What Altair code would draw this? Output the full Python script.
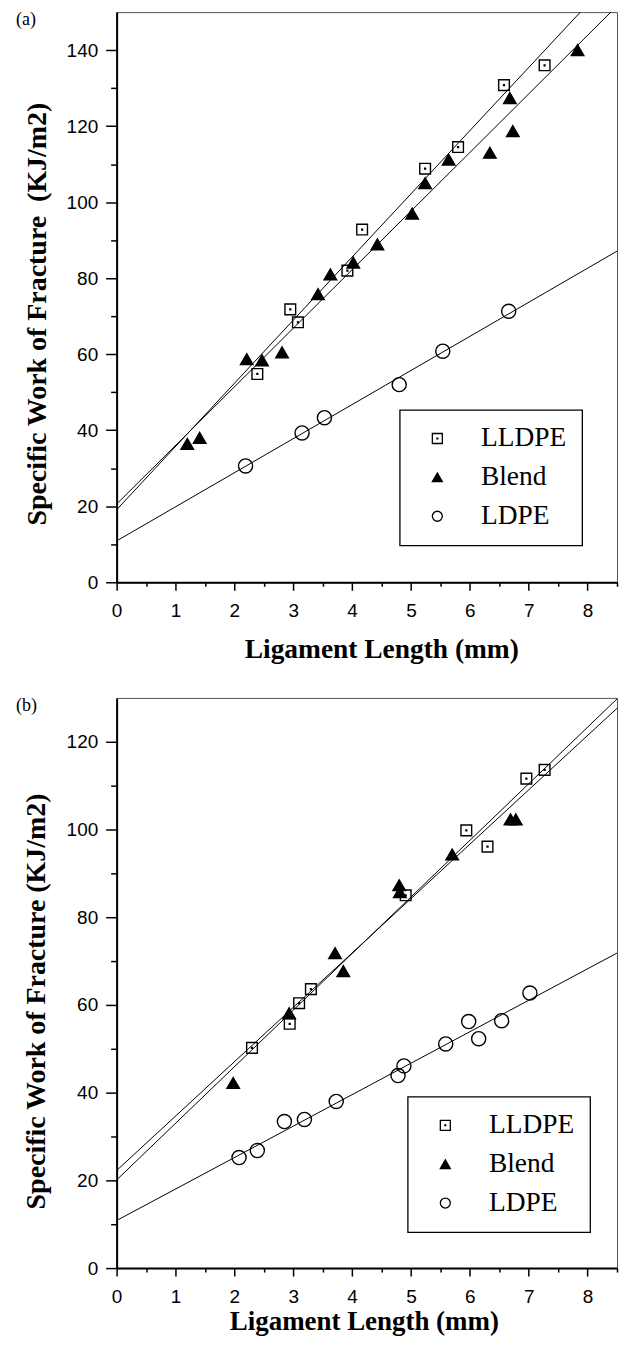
import altair as alt
import pandas as pd

SERIES = ["LLDPE", "Blend", "LDPE"]

# ---- panel (a): ligament length (mm) vs specific work of fracture (kJ/m2)
a_lldpe_len = [2.39, 2.95, 3.08, 3.92, 4.17, 5.24, 5.80, 6.58, 7.27]
a_lldpe_wf = [54.8, 71.8, 68.4, 82.0, 92.8, 108.8, 114.5, 130.8, 136.0]
a_blend_len = [1.20, 1.41, 2.21, 2.47, 2.81, 3.42, 3.63, 4.02, 4.43, 5.02,
               5.24, 5.64, 6.34, 6.73, 6.68, 7.83]
a_blend_wf = [36.4, 38.0, 58.7, 58.4, 60.5, 75.8, 81.0, 84.1, 88.9, 97.0,
              105.0, 111.2, 113.0, 118.7, 127.4, 140.0]
a_ldpe_len = [2.19, 3.15, 3.53, 4.80, 5.54, 6.66]
a_ldpe_wf = [30.6, 39.3, 43.3, 52.0, 60.8, 71.3]

# ---- panel (b)
b_lldpe_len = [2.30, 2.94, 3.10, 3.30, 4.91, 5.94, 6.30, 6.96, 7.27]
b_lldpe_wf = [50.2, 55.7, 60.4, 63.6, 85.0, 99.8, 96.1, 111.6, 113.6]
b_blend_len = [1.98, 2.93, 3.71, 3.85, 4.80, 4.81, 5.70, 6.69, 6.78]
b_blend_wf = [42.2, 58.1, 71.8, 67.7, 87.3, 85.7, 94.3, 102.3, 102.3]
b_ldpe_len = [2.08, 2.39, 2.85, 3.19, 3.73, 4.78, 4.88, 5.59, 5.98, 6.15,
              6.54, 7.02]
b_ldpe_wf = [25.2, 26.8, 33.4, 33.9, 38.0, 43.9, 46.1, 51.1, 56.2, 52.3,
             56.4, 62.7]

# axis tick positions (majors are labelled, the rest are minor ticks)
X_TICKS = [0, 0.5, 1, 1.5, 2, 2.5, 3, 3.5, 4, 4.5, 5, 5.5, 6, 6.5, 7, 7.5, 8, 8.5]
A_Y_TICKS = [0, 10, 20, 30, 40, 50, 60, 70, 80, 90, 100, 110, 120, 130, 140]
B_Y_TICKS = [0, 10, 20, 30, 40, 50, 60, 70, 80, 90, 100, 110, 120]

# open square with a centre dot, as a unit-box SVG path
DOT_SQUARE = "M-1,-1H1V1H-1Z M-0.08,-0.08H0.08V0.08H-0.08Z"


def frame(groups):
    rows = []
    for name, xs, ys in groups:
        for x, y in zip(xs, ys):
            rows.append({"series": name, "len": x, "wf": y})
    return pd.DataFrame(rows)


df_a = frame([("LLDPE", a_lldpe_len, a_lldpe_wf),
              ("Blend", a_blend_len, a_blend_wf),
              ("LDPE", a_ldpe_len, a_ldpe_wf)])
df_b = frame([("LLDPE", b_lldpe_len, b_lldpe_wf),
              ("Blend", b_blend_len, b_blend_wf),
              ("LDPE", b_ldpe_len, b_ldpe_wf)])

W, H = 502, 572


def panel(df, tag, y_max, y_ticks, y_title, y_title_y, y_title_x,
          x_title_x, x_title_y, x_title_size, legend_x, legend_y):
    x_axis = alt.Axis(
        values=X_TICKS,
        labelExpr="datum.value % 1 === 0 ? format(datum.value, 'd') : ''",
        tickSize={"condition": {"test": "datum.value % 1 === 0", "value": 8}, "value": 4},
        labelPadding=11.5,
        title="Ligament Length (mm)",
        titleFontSize=x_title_size,
        titleX=x_title_x,
        titleY=x_title_y,
        titleBaseline="top",
    )
    y_axis = alt.Axis(
        values=y_ticks,
        labelExpr="datum.value % 20 === 0 ? format(datum.value, 'd') : ''",
        tickSize={"condition": {"test": "datum.value % 20 === 0", "value": 11}, "value": 6},
        labelPadding=8,
        title=y_title,
        titleFontSize=28,
        titleAngle=270,
        titleBaseline="bottom",
        titleX=y_title_x,
        titleY=y_title_y,
    )
    x_enc = alt.X("len:Q", scale=alt.Scale(domain=[0, 8.5], nice=False, zero=False), axis=x_axis)
    y_enc = alt.Y("wf:Q", scale=alt.Scale(domain=[0, y_max], nice=False, zero=False), axis=y_axis)

    legend = alt.Legend(title=None, orient="none", legendX=legend_x, legendY=legend_y)

    fits = (
        alt.Chart(df)
        .transform_regression(on="len", regression="wf", groupby=["series"], extent=[0, 8.5])
        .mark_line(clip=True, color="black", strokeWidth=1)
        .encode(x=x_enc, y=y_enc, detail="series:N")
    )
    points = (
        alt.Chart(df)
        .mark_point(filled=False, opacity=1, strokeWidth=1.4)
        .encode(
            x=x_enc,
            y=y_enc,
            shape=alt.Shape("series:N",
                            scale=alt.Scale(domain=SERIES, range=[DOT_SQUARE, "triangle-up", "circle"]),
                            legend=legend),
            fill=alt.Fill("series:N",
                          scale=alt.Scale(domain=SERIES, range=["transparent", "black", "transparent"]),
                          legend=legend),
            stroke=alt.Stroke("series:N",
                              scale=alt.Scale(domain=SERIES, range=["black", "black", "black"]),
                              legend=legend),
            size=alt.Size("series:O",
                          scale=alt.Scale(domain=SERIES, range=[115, 200, 160]),
                          legend=None),
        )
    )
    label = (
        alt.Chart(pd.DataFrame({"tag": [tag]}))
        .mark_text(font="Liberation Serif", fontSize=18, align="left", baseline="middle", color="black")
        .encode(text="tag:N", x=alt.value(-101), y=alt.value(8))
    )
    return alt.layer(fits, points, label).properties(width=W, height=H)


panel_a = panel(df_a, "(a)", 150, A_Y_TICKS,
                "Specific Work of Fracture\u00a0 (KJ/m2)", 302.5, -65,
                265.5, 53, 27.5, 284, 399)
panel_b = panel(df_b, "(b)", 130, B_Y_TICKS,
                "Specific Work of Fracture (KJ/m2)", 304, -66,
                248, 41, 27, 292, 400)

chart = (
    alt.vconcat(panel_a, panel_b, spacing=116, bounds="flush")
    .resolve_scale(x="independent", y="independent", shape="independent",
                   fill="independent", stroke="independent")
    .properties(padding={"left": 15, "top": 8, "right": 5, "bottom": 5}, background="white")
    .configure_view(stroke="#555555", strokeWidth=1)
    .configure_axis(
        grid=False,
        domainColor="black",
        domainWidth=2,
        tickColor="black",
        tickWidth=1.5,
        labelFont="Liberation Sans",
        labelFontSize=19,
        labelColor="black",
        labelOverlap=False,
        labelFlush=False,
        labelBound=False,
        titleFont="Liberation Serif",
        titleFontWeight="bold",
        titleColor="black",
    )
    .configure_legend(
        labelFont="Liberation Serif",
        labelFontSize=27.5,
        labelColor="black",
        strokeColor="black",
        strokeWidth=1.3,
        fillColor="white",
        padding=15,
        rowPadding=10,
        symbolSize=100,
        symbolStrokeWidth=1.3,
        symbolOffset=9,
        labelOffset=30,
        labelLimit=0,
    )
)

chart.save("out.html", embed_options={"renderer": "svg", "actions": False})
